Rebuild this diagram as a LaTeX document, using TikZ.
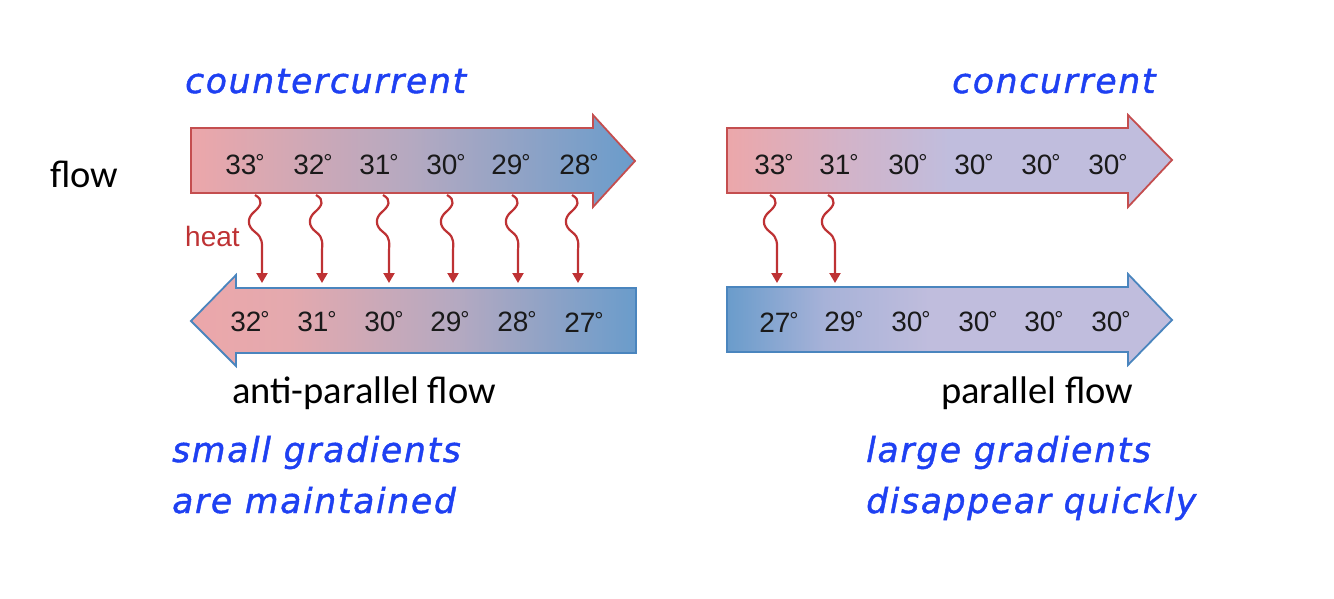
\documentclass[tikz,border=0pt]{standalone}
\usepackage{fontspec}
\setmainfont{Liberation Sans}
\newfontfamily\calib{Carlito}
\newfontfamily\hand{DejaVu Sans}[LetterSpace=5,FakeBold=1.3]
\usetikzlibrary{arrows.meta,calc}
\definecolor{pinkA}{HTML}{ECA7AA}
\definecolor{pinkB}{HTML}{E4A9AE}
\definecolor{mauve}{HTML}{B4A9C1}
\definecolor{blueA}{HTML}{6A9CCB}
\definecolor{lav}{HTML}{C0BDDD}
\definecolor{lavpink}{HTML}{D3B3C8}
\definecolor{lavblue}{HTML}{A7B2D8}
\definecolor{redline}{HTML}{C44E4F}
\definecolor{blueline}{HTML}{4A85BE}
\definecolor{heatred}{HTML}{BE3234}
\definecolor{handblue}{HTML}{1E40F2}
\definecolor{numblack}{HTML}{1A1A1A}
\newcommand\dg{\kern-1pt\raisebox{4pt}{\fontsize{23}{23}\selectfont °}}
\pgfdeclarehorizontalshading{shTL}{100bp}{color(0bp)=(pinkA); color(25bp)=(pinkA); color(50bp)=(mauve); color(75bp)=(blueA); color(100bp)=(blueA)}
\pgfdeclarehorizontalshading{shBL}{100bp}{color(0bp)=(pinkA); color(25bp)=(pinkA); color(36bp)=(pinkB); color(55bp)=(mauve); color(75bp)=(blueA); color(100bp)=(blueA)}
\pgfdeclarehorizontalshading{shTR}{100bp}{color(0bp)=(pinkA); color(25bp)=(pinkA); color(38bp)=(lavpink); color(50bp)=(lav); color(75bp)=(lav); color(100bp)=(lav)}
\pgfdeclarehorizontalshading{shBR}{100bp}{color(0bp)=(blueA); color(25bp)=(blueA); color(36bp)=(lavblue); color(48bp)=(lav); color(75bp)=(lav); color(100bp)=(lav)}
\begin{document}
\begin{tikzpicture}[x=1pt,y=-1pt,
  num/.style={text=numblack,font=\fontsize{28}{28}\selectfont,inner sep=0pt},
  heatarrow/.style={draw=heatred,line width=2.2pt,-{Triangle[width=11pt,length=10pt]},
    to path={.. controls +(9,5) and +(7,-6) .. ($(\tikztostart)+(-1,17)$)
      .. controls +(-7,6) and +(-8,-6) .. ($(\tikztostart)+(0,37)$)
      .. controls +(8,6) and +(0,-10) .. ($(\tikztotarget)+(0,-30)$) -- (\tikztotarget)}},
  hw/.style={text=handblue,font=\hand\itshape\fontsize{34.5}{34.5}\selectfont,anchor=base west,inner sep=0pt},
  lbl/.style={text=black,font=\calib\fontsize{38.5}{38.5}\selectfont,anchor=base west,inner sep=0pt},
  bigarrow/.style={line width=1.8pt,line join=miter}]
\useasboundingbox (0,0) rectangle (1334,599);
% big arrows
\path[bigarrow,draw=redline,shading=shTL] (191,128) -- (593,128) -- (593,115) -- (635,161) -- (593,207) -- (593,193) -- (191,193) -- cycle;
\path[bigarrow,draw=blueline,shading=shBL] (636,288) -- (236,288) -- (236,275) -- (191,321) -- (236,366) -- (236,353) -- (636,353) -- cycle;
\path[bigarrow,draw=redline,shading=shTR] (727,128) -- (1128,128) -- (1128,115) -- (1172,160) -- (1128,207) -- (1128,193) -- (727,193) -- cycle;
\path[bigarrow,draw=blueline,shading=shBR] (727,287) -- (1128,287) -- (1128,274) -- (1172,320) -- (1128,365) -- (1128,352) -- (727,352) -- cycle;
% numbers left
\node[num] (tl1) at (245,165) {33\dg};
\node[num] (tl2) at (313,165) {32\dg};
\node[num] (tl3) at (379,165) {31\dg};
\node[num] (tl4) at (446,165) {30\dg};
\node[num] (tl5) at (511,165) {29\dg};
\node[num] (tl6) at (579,165) {28\dg};
\node[num] (bl1) at (250,322) {32\dg};
\node[num] (bl2) at (317,322) {31\dg};
\node[num] (bl3) at (384,322) {30\dg};
\node[num] (bl4) at (450,322) {29\dg};
\node[num] (bl5) at (517,322) {28\dg};
\node[num] (bl6) at (584,322) {27\dg};
% numbers right
\node[num] (tr1) at (774,165) {33\dg};
\node[num] (tr2) at (839,165) {31\dg};
\node[num] (tr3) at (908,165) {30\dg};
\node[num] (tr4) at (974,165) {30\dg};
\node[num] (tr5) at (1041,165) {30\dg};
\node[num] (tr6) at (1108,165) {30\dg};
\node[num] (br1) at (779,322) {27\dg};
\node[num] (br2) at (844,322) {29\dg};
\node[num] (br3) at (911,322) {30\dg};
\node[num] (br4) at (978,322) {30\dg};
\node[num] (br5) at (1044,322) {30\dg};
\node[num] (br6) at (1111,322) {30\dg};
% heat arrows left
\foreach \i/\xs/\xe in {1/255/262,2/316/322,3/383/389,4/447/453,5/512/518,6/572/578}{
  \coordinate (hs\i) at (\xs,195);
  \coordinate (he\i) at (\xe,283);
  \draw[heatarrow] (hs\i) to (he\i);
}
% heat arrows right
\foreach \i/\xs/\xe in {1/770/777,2/828/835}{
  \coordinate (hrs\i) at (\xs,195);
  \coordinate (hre\i) at (\xe,283);
  \draw[heatarrow] (hrs\i) to (hre\i);
}
\node[text=heatred,font=\fontsize{28}{28}\selectfont,anchor=base west,inner sep=0pt] (heat) at (185,246) {heat};
% labels
\node[lbl] (flow) at (50,187) {flow};
\node[lbl] (anti) at (232,403) {anti-parallel flow};
\node[lbl] (par) at (941,403) {parallel flow};
% handwritten
\node[hw] (cc) at (185,93) {countercurrent};
\node[hw] (con) at (952,93) {concurrent};
\node[hw] (s1) at (172,462) {small gradients};
\node[hw] (s2) at (172,513) {are maintained};
\node[hw] (l1) at (866,462) {large gradients};
\node[hw] (l2) at (866,513) {disappear quickly};
\end{tikzpicture}
\end{document}
